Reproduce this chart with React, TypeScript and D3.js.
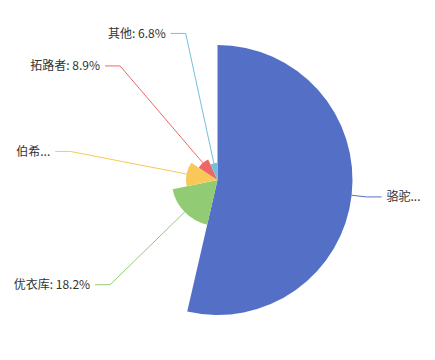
import React, { useEffect, useRef } from "react";
import * as d3 from "d3";

const names = ["骆驼", "优衣库", "伯希和", "拓路者", "其他"];
const values = [53.6, 18.2, 12.5, 8.9, 6.8];
const colors = ["#5470c6", "#91cc75", "#fac858", "#ee6666", "#73c0de"];

const W = 435;
const H = 360;
const FONT = "12px 'Microsoft YaHei', 'Noto Sans CJK SC', sans-serif";

function truncate(text: string, maxW: number, ctx: CanvasRenderingContext2D) {
  if (ctx.measureText(text).width <= maxW) return text;
  const ell = "...";
  const avail = maxW - ctx.measureText(ell).width;
  let out = "";
  for (const ch of Array.from(text)) {
    if (ctx.measureText(out + ch).width > avail) break;
    out += ch;
  }
  out = out.replace(/[:\s]+$/, "");
  return out + ell;
}

export default function App() {
  const ref = useRef<SVGSVGElement>(null);
  useEffect(() => {
    const svg = d3.select(ref.current);
    svg.selectAll("*").remove();
    const cx = W / 2;
    const cy = H / 2;
    const R = (Math.min(W, H) / 2) * 0.75;
    const total = d3.sum(values);
    const rScale = d3.scaleLinear().domain([0, d3.max(values)!]).range([0, R]);
    const data = names.map((n, i) => ({ name: n, value: values[i], color: colors[i] }));
    const pie = d3.pie<any>().sort(null).value((d) => d.value).startAngle(0).endAngle(Math.PI * 2);
    const arcs = pie(data);
    const arc = d3.arc<any>().innerRadius(0).outerRadius((d: any) => rScale(d.data.value));
    const g = svg.append("g").attr("transform", `translate(${cx},${cy})`);
    g.selectAll("path.slice")
      .data(arcs)
      .join("path")
      .attr("class", "slice")
      .attr("d", arc as any)
      .attr("fill", (d: any) => d.data.color);

    const canvas = document.createElement("canvas");
    const ctx = canvas.getContext("2d")!;
    ctx.font = FONT;

    const len1 = 15;
    const len2 = 15;
    const bleed = 10;
    arcs.forEach((a: any) => {
      const mid = (a.startAngle + a.endAngle) / 2;
      const dx = Math.sin(mid);
      const dy = -Math.cos(mid);
      const r = rScale(a.data.value);
      const x1 = cx + dx * r;
      const y1 = cy + dy * r;
      const x2 = cx + dx * (R + len1);
      const y2 = cy + dy * (R + len1);
      const isLeft = dx < 0;
      const x3 = x2 + (isLeft ? -len2 : len2);
      const tx = x3 + (isLeft ? -5 : 5);
      const pct = +((a.data.value / total) * 100).toFixed(2);
      const full = `${a.data.name}: ${pct}%`;
      const availW = isLeft ? tx - bleed : W - tx - bleed;
      const label = truncate(full, availW, ctx);
      svg
        .append("polyline")
        .attr("points", `${x1},${y1} ${x2},${y2} ${x3},${y2}`)
        .attr("fill", "none")
        .attr("stroke", a.data.color)
        .attr("stroke-width", 1);
      svg
        .append("text")
        .attr("x", tx)
        .attr("y", y2)
        .attr("dy", "0.35em")
        .attr("text-anchor", isLeft ? "end" : "start")
        .attr("font-size", 12)
        .attr("font-family", "'Microsoft YaHei', 'Noto Sans CJK SC', sans-serif")
        .attr("fill", "#333")
        .text(label);
    });
  }, []);
  return (
    <svg
      ref={ref}
      width={W}
      height={H}
      style={{ position: "absolute", left: 0, top: 0, background: "#fff" }}
    />
  );
}
